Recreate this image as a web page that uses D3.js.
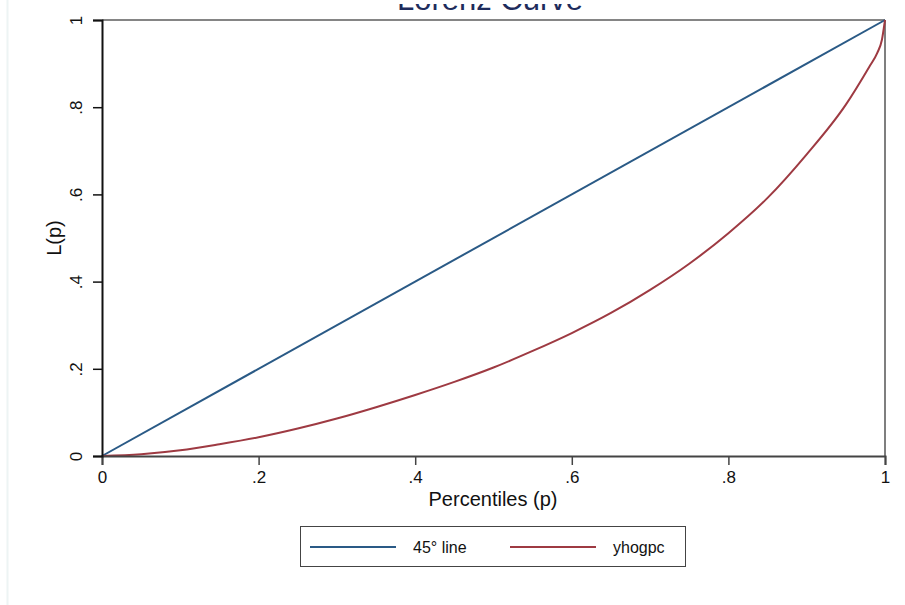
<!DOCTYPE html>
<html>
<head>
<meta charset="utf-8">
<script src="https://cdn.jsdelivr.net/npm/d3@7"></script>
<style>
  body { margin: 0; background: #fff; }
  svg { font-family: Arial, "Liberation Sans", sans-serif; }
</style>
</head>
<body>
<script>
// Lorenz curve data
var pct = [0, 0.05, 0.1, 0.15, 0.2, 0.25, 0.3, 0.35, 0.4, 0.45, 0.5, 0.55, 0.6, 0.65, 0.7, 0.75, 0.8, 0.85, 0.9, 0.95, 0.98, 0.99, 0.996, 1];
var lorenz = [0, 0.004, 0.013, 0.027, 0.043, 0.063, 0.086, 0.112, 0.140, 0.170, 0.203, 0.241, 0.282, 0.328, 0.381, 0.441, 0.511, 0.592, 0.692, 0.806, 0.893, 0.924, 0.954, 1];
var diag = [0, 1];
var xTicks = [0, 0.2, 0.4, 0.6, 0.8, 1];
var yTicks = [0, 0.2, 0.4, 0.6, 0.8, 1];
var seriesNames = ["45\u00b0 line", "yhogpc"];

var W = 905, H = 605;
var blue = "#2a5a86", red = "#9e3a42";

var svg = d3.select("body").append("svg")
    .attr("width", W)
    .attr("height", H);

// faint edge on the left of the page
svg.append("line")
    .attr("x1", 7.5).attr("x2", 7.5).attr("y1", 0).attr("y2", H)
    .attr("stroke", "#edf4f4").attr("stroke-width", 2);

var x = d3.scaleLinear().domain([0, 1]).range([102, 885]);
var y = d3.scaleLinear().domain([0, 1]).range([456, 20]);

var fmt = function(d) {
  if (d === 0) return "0";
  if (d === 1) return "1";
  return d3.format(".1f")(d).replace(/^0/, "");
};

// title (only its lower edge shows in the picture)
svg.append("clipPath").attr("id", "titleclip")
  .append("rect").attr("x", 0).attr("y", 4).attr("width", W).attr("height", 20);
svg.append("text")
    .attr("clip-path", "url(#titleclip)")
    .attr("x", 490).attr("y", 10)
    .attr("text-anchor", "middle")
    .attr("font-size", 31)
    .attr("fill", "#1e2c5c")
    .text("Lorenz Curve");

// frame: top and right borders
svg.append("line")
    .attr("x1", x(0)).attr("x2", x(1)).attr("y1", y(1)).attr("y2", y(1))
    .attr("stroke", "#858585").attr("stroke-width", 2);
svg.append("line")
    .attr("x1", x(1)).attr("x2", x(1)).attr("y1", y(1)).attr("y2", y(0))
    .attr("stroke", "#555").attr("stroke-width", 1.5);

// lines
var line = d3.line()
    .x(function(d) { return x(d[0]); })
    .y(function(d) { return y(d[1]); });

svg.append("path")
    .datum(diag.map(function(d) { return [d, d]; }))
    .attr("d", line)
    .attr("fill", "none")
    .attr("stroke", blue)
    .attr("stroke-width", 2);

svg.append("path")
    .datum(pct.map(function(p, i) { return [p, lorenz[i]]; }))
    .attr("d", line.curve(d3.curveMonotoneX))
    .attr("fill", "none")
    .attr("stroke", red)
    .attr("stroke-width", 2);

// x axis
var xAxis = svg.append("g")
    .attr("transform", "translate(0," + y(0) + ")")
    .call(d3.axisBottom(x).tickValues(xTicks).tickFormat(fmt).tickSize(9).tickPadding(6));
xAxis.select(".domain").attr("stroke", "#444").attr("stroke-width", 2);
xAxis.selectAll(".tick line").attr("stroke", "#444").attr("stroke-width", 1.5);
xAxis.selectAll("text").attr("font-size", 17).attr("fill", "#111").attr("font-family", "Arial, 'Liberation Sans', sans-serif");

// y axis
var yAxis = svg.append("g")
    .attr("transform", "translate(" + x(0) + ",0)")
    .call(d3.axisLeft(y).tickValues(yTicks).tickFormat(fmt).tickSize(9).tickPadding(0));
yAxis.select(".domain").attr("stroke", "#111").attr("stroke-width", 2);
yAxis.selectAll(".tick line").attr("stroke", "#111").attr("stroke-width", 1.5);
yAxis.selectAll("text")
    .attr("font-size", 17).attr("fill", "#111")
    .attr("font-family", "Arial, 'Liberation Sans', sans-serif")
    .attr("x", 0).attr("dy", 0)
    .attr("text-anchor", "middle")
    .attr("transform", "translate(-20,0) rotate(-90)");

// axis titles
svg.append("text")
    .attr("x", 493).attr("y", 506)
    .attr("text-anchor", "middle")
    .attr("font-size", 20).attr("fill", "#111")
    .text("Percentiles (p)");

svg.append("text")
    .attr("transform", "translate(61,238) rotate(-90)")
    .attr("text-anchor", "middle")
    .attr("font-size", 20).attr("fill", "#111")
    .text("L(p)");

// legend
var legend = svg.append("g");
legend.append("rect")
    .attr("x", 300.5).attr("y", 526.5).attr("width", 385).attr("height", 40)
    .attr("fill", "#fff").attr("stroke", "#444").attr("stroke-width", 1);

var items = [
  { name: seriesNames[0], color: blue, x0: 310 },
  { name: seriesNames[1], color: red, x0: 510 }
];
items.forEach(function(it) {
  legend.append("line")
      .attr("x1", it.x0).attr("x2", it.x0 + 86)
      .attr("y1", 547).attr("y2", 547)
      .attr("stroke", it.color).attr("stroke-width", 2);
  legend.append("text")
      .attr("x", it.x0 + 103).attr("y", 553)
      .attr("font-size", 16).attr("fill", "#111")
      .text(it.name);
});
</script>
</body>
</html>
